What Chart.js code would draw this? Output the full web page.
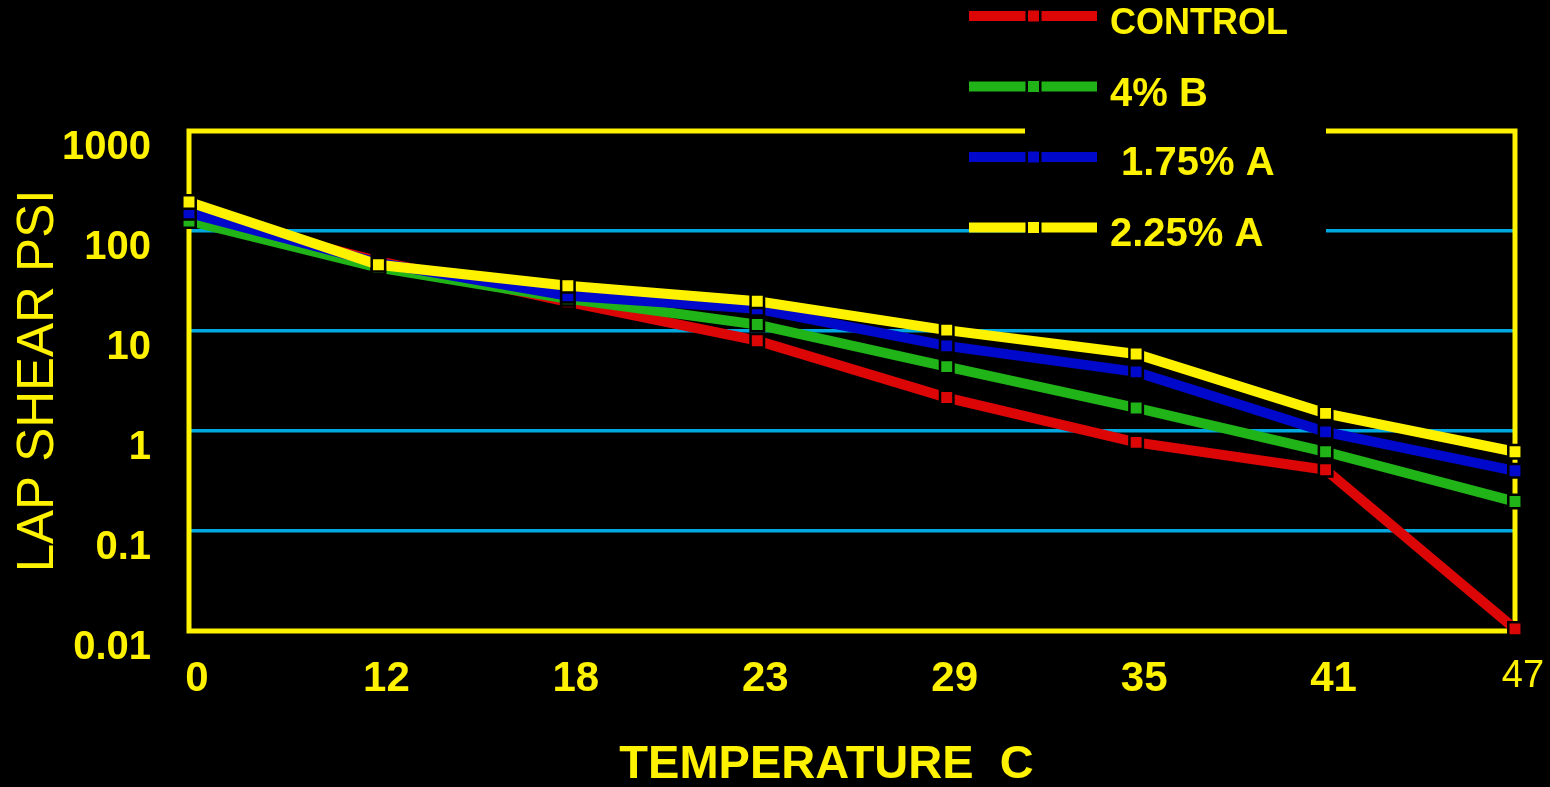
<!DOCTYPE html>
<html>
<head>
<meta charset="utf-8">
<script src="https://cdn.jsdelivr.net/npm/chart.js@4/dist/chart.umd.min.js"></script>
<style>
  html, body { margin: 0; padding: 0; background: #000; }
  #wrap { width: 1550px; height: 787px; }
</style>
</head>
<body>
<div id="wrap"><canvas id="c" width="1550" height="787"></canvas></div>
<script>
// ---- data ----
const categories = ['0', '12', '18', '23', '29', '35', '41', '47'];
const seriesLabels = ['CONTROL', '4% B', ' 1.75% A', '2.25% A'];
const control  = [150, 50, 19.6, 8.0, 2.16, 0.77, 0.41, 0.0105];
const fourPctB = [126, 43, 21, 11.6, 4.4, 1.7, 0.62, 0.197];
const a175     = [152, 48, 22.5, 16.7, 7.1, 3.9, 0.98, 0.40];
const a225     = [195, 46, 28.4, 19.8, 10.2, 5.9, 1.5, 0.62];
const yTickValues = [0.01, 0.1, 1, 10, 100, 1000];
const yTickLabels = ['0.01', '0.1', '1', '10', '100', '1000'];
const xTitle = 'TEMPERATURE  C';
const yTitle = 'LAP SHEAR PSI';

// ---- styles ----
const YELLOW = '#FFF200';
const CYAN = '#00A8E0';
const colors = ['#DD0606', '#20B418', '#0008CC', YELLOW];
const seriesData = [control, fourPctB, a175, a225];
const drawOrder = [3, 2, 1, 0];

const datasets = seriesData.map((d, i) => ({
  label: seriesLabels[i],
  data: d,
  borderColor: colors[i],
  backgroundColor: colors[i],
  borderWidth: 10,
  pointStyle: 'rect',
  pointRadius: 9.5,
  pointBorderWidth: 2.5,
  pointBorderColor: '#000',
  pointBackgroundColor: colors[i],
  tension: 0,
  clip: false,
  order: drawOrder[i]
}));

const framePlugin = {
  id: 'frame',
  beforeDatasetsDraw(chart) {
    const { ctx, chartArea: a } = chart;
    ctx.save();
    ctx.strokeStyle = YELLOW;
    ctx.lineWidth = 5;
    ctx.strokeRect(a.left, a.top, a.right - a.left, a.bottom - a.top);
    ctx.restore();
  }
};

const legendPlugin = {
  id: 'customLegend',
  afterDraw(chart) {
    const { ctx } = chart;
    ctx.save();
    ctx.fillStyle = '#000';
    ctx.fillRect(1025, 0, 301, 256);
    const rowY = [16, 86.5, 157, 227.5];
    const fontSizes = [36, 40, 40, 40];
    const textDy = [8.5, 8, 6.5, 7];
    chart.data.datasets.forEach((ds, i) => {
      const y = rowY[i];
      ctx.strokeStyle = ds.borderColor;
      ctx.lineWidth = 10;
      ctx.beginPath();
      ctx.moveTo(969, y);
      ctx.lineTo(1097, y);
      ctx.stroke();
      const s = 13.5;
      ctx.fillStyle = ds.borderColor;
      ctx.fillRect(1033.5 - s / 2, y - s / 2, s, s);
      ctx.strokeStyle = '#000';
      ctx.lineWidth = 2.5;
      ctx.strokeRect(1033.5 - s / 2, y - s / 2, s, s);
      ctx.fillStyle = YELLOW;
      ctx.font = 'bold ' + fontSizes[i] + 'px "Liberation Sans", Arial, sans-serif';
      ctx.textAlign = 'left';
      ctx.textBaseline = 'middle';
      ctx.fillText(ds.label, 1110, y + textDy[i]);
    });
    ctx.restore();
  }
};

new Chart(document.getElementById('c'), {
  type: 'line',
  data: { labels: categories, datasets },
  options: {
    responsive: false,
    animation: false,
    events: [],
    layout: { padding: { top: 131, right: 35, left: 0, bottom: 0 } },
    plugins: { legend: { display: false }, tooltip: { enabled: false }, title: { display: false } },
    scales: {
      x: {
        type: 'category',
        offset: false,
        grid: { display: false, drawTicks: false },
        border: { display: false },
        ticks: {
          color: YELLOW,
          padding: 23,
          labelOffset: 8,
          maxRotation: 0,
          autoSkip: false,
          font: (c) => (c.index === categories.length - 1)
            ? { family: '"Liberation Sans", Arial, sans-serif', size: 38, weight: 'normal', lineHeight: 1.2 }
            : { family: '"Liberation Sans", Arial, sans-serif', size: 42, weight: 'bold', lineHeight: 1.2 }
        },
        title: {
          display: true,
          text: xTitle,
          color: YELLOW,
          font: { family: '"Liberation Sans", Arial, sans-serif', size: 47, weight: 'bold', lineHeight: 1 },
          padding: { top: 0, bottom: -2 }
        },
        afterFit(scale) {
          scale.height = 156;
          scale.paddingLeft = 0;
          scale.paddingRight = 0;
          if (!scale._titlePatched) {
            const orig = scale.drawTitle.bind(scale);
            scale.drawTitle = function () {
              const ctx = this.ctx;
              ctx.save();
              ctx.translate(-25.5, 0);
              orig();
              ctx.restore();
            };
            scale._titlePatched = true;
          }
        }
      },
      y: {
        type: 'logarithmic',
        min: 0.01,
        max: 1000,
        grid: {
          drawTicks: false,
          lineWidth: 3.5,
          color: (c) => (c.tick && (c.tick.value === 0.01 || c.tick.value === 1000)) ? 'rgba(0,0,0,0)' : CYAN
        },
        border: { display: false },
        afterBuildTicks(scale) {
          scale.ticks = yTickValues.map(v => ({ value: v }));
        },
        ticks: {
          color: YELLOW,
          padding: 38,
          labelOffset: 17,
          autoSkip: false,
          font: { family: '"Liberation Sans", Arial, sans-serif', size: 40, weight: 'bold' },
          callback: (value) => {
            const i = yTickValues.indexOf(value);
            return i >= 0 ? yTickLabels[i] : '';
          }
        },
        title: {
          display: true,
          text: yTitle,
          color: YELLOW,
          font: { family: '"Liberation Sans", Arial, sans-serif', size: 51, weight: 'normal', lineHeight: 1 },
          padding: { top: 13.5, bottom: 0 }
        },
        afterFit(scale) {
          scale.width = 189;
          scale.paddingTop = 0;
          scale.paddingBottom = 0;
        }
      }
    }
  },
  plugins: [framePlugin, legendPlugin]
});
</script>
</body>
</html>
